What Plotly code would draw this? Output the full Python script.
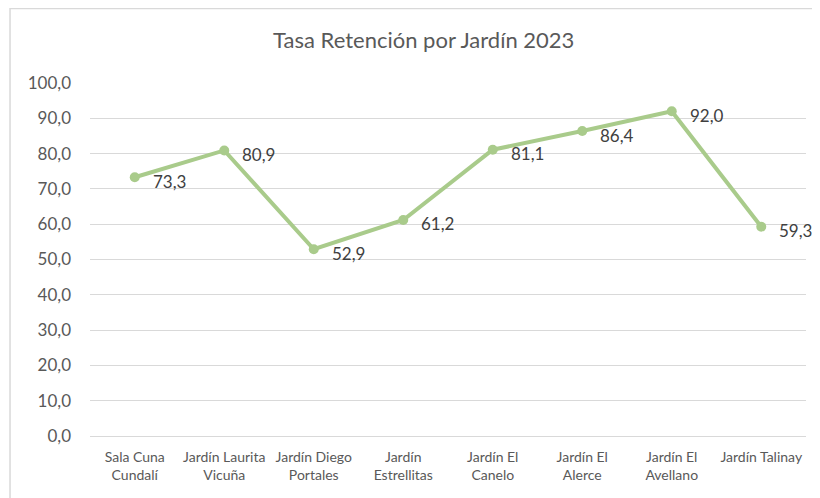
import plotly.graph_objects as go

categories = ["Sala Cuna<br>Cundalí", "Jardín Laurita<br>Vicuña", "Jardín Diego<br>Portales",
              "Jardín<br>Estrellitas", "Jardín El<br>Canelo", "Jardín El<br>Alerce",
              "Jardín El<br>Avellano", "Jardín Talinay"]
retencion = [73.3, 80.9, 52.9, 61.2, 81.1, 86.4, 92.0, 59.3]
y_ticks = [0, 10, 20, 30, 40, 50, 60, 70, 80, 90, 100]

LINE = "#A9CB8B"
FONT = "Lato, 'Open Sans', sans-serif"

fig = go.Figure()
fig.add_trace(go.Scatter(
    x=categories, y=retencion, mode="lines+markers",
    line=dict(color=LINE, width=4),
    marker=dict(color=LINE, size=10),
    hoverinfo="skip", showlegend=False,
))

for c, v in zip(categories, retencion):
    fig.add_annotation(x=c, y=v, text=f"{v:.1f}".replace(".", ","), showarrow=False,
                       xanchor="left", yanchor="middle", xshift=16, yshift=-4,
                       font=dict(family=FONT, size=17, color="#404040"))

fig.update_layout(
    width=812, height=490,
    margin=dict(l=82, r=14, t=75, b=62),
    paper_bgcolor="white", plot_bgcolor="white",
    separators=",.",
    font=dict(family=FONT, color="#595959"),
    title=dict(text="Tasa Retención por Jardín 2023", x=0.512, xanchor="center",
               y=0.935, yanchor="middle", font=dict(size=22, color="#595959")),
    xaxis=dict(type="category", showgrid=False, showline=False, zeroline=False,
               tickfont=dict(size=14, color="#595959"), ticks="",
               ticklabelstandoff=11,
               range=[-0.5, len(categories) - 0.5]),
    yaxis=dict(range=[0, 100], tickvals=y_ticks, tickformat=".1f",
               showgrid=True, gridcolor="#D9D9D9", gridwidth=1,
               zeroline=True, zerolinecolor="#D9D9D9", zerolinewidth=1,
               showline=False, ticks="", ticklabelstandoff=18,
               tickfont=dict(size=17, color="#595959")),
    shapes=[dict(type="rect", xref="paper", yref="paper",
                 x0=-0.1117, x1=1.5, y0=-0.5, y1=1.211,
                 line=dict(color="#D9D9D9", width=1.5), fillcolor="rgba(0,0,0,0)",
                 layer="below")],
)

fig.write_html("out.html")
